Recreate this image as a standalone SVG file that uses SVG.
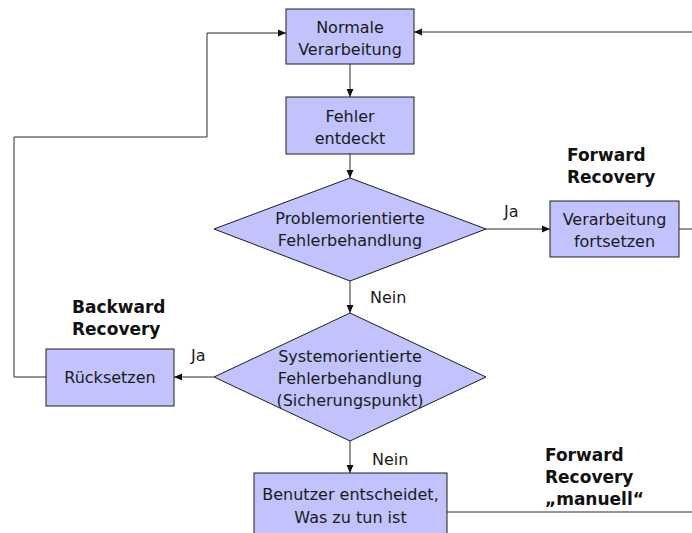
<svg xmlns="http://www.w3.org/2000/svg" width="692" height="533" viewBox="0 0 692 533">
  <style>
    .node { fill: #c2c2fc; stroke: #1e1e1e; stroke-width: 1; }
    .txt { font-family: "DejaVu Sans", Verdana, sans-serif; font-size: 16px; fill: #1a1a1a; text-anchor: middle; }
    .lbl { font-family: "DejaVu Sans", Verdana, sans-serif; font-size: 16px; fill: #1a1a1a; }
    .hd { font-family: "DejaVu Sans", Verdana, sans-serif; font-size: 17px; font-weight: bold; fill: #111; }
    .edge { fill: none; stroke: #2a2a2a; stroke-width: 1; }
  </style>
  <defs>
    <marker id="arrow" viewBox="0 0 8 8" refX="8" refY="4" markerWidth="8" markerHeight="8" markerUnits="userSpaceOnUse" orient="auto">
      <path d="M0,0.5 L8,4 L0,7.5 Z" fill="#111"/>
    </marker>
  </defs>

  <rect width="692" height="533" fill="#ffffff"/>

  <!-- connectors -->
  <g id="connectors">
    <path class="edge" d="M350,64 V97" marker-end="url(#arrow)"/>
    <path class="edge" d="M350,154 V178" marker-end="url(#arrow)"/>
    <path class="edge" d="M350,281 V313" marker-end="url(#arrow)"/>
    <path class="edge" d="M350,441 V473" marker-end="url(#arrow)"/>
    <path class="edge" d="M486,229 H550" marker-end="url(#arrow)"/>
    <path class="edge" d="M214,377 H174" marker-end="url(#arrow)"/>
    <path class="edge" d="M46,377 H14 V137 H207 V33 H286" marker-end="url(#arrow)"/>
    <path class="edge" d="M679,229 H692"/>
    <path class="edge" d="M692,32 H414" marker-end="url(#arrow)"/>
    <path class="edge" d="M447,512 H692"/>
  </g>

  <!-- edge labels -->
  <g id="edge-labels">
    <text class="lbl" x="504" y="217">Ja</text>
    <text class="lbl" x="370" y="303">Nein</text>
    <text class="lbl" x="191" y="361">Ja</text>
    <text class="lbl" x="372" y="465">Nein</text>
  </g>

  <g id="normal">
    <rect class="node" x="286" y="9" width="128" height="55"/>
    <text class="txt" x="350" y="33">Normale</text>
    <text class="txt" x="350" y="55">Verarbeitung</text>
  </g>

  <g id="detected">
    <rect class="node" x="286" y="97" width="128" height="57"/>
    <text class="txt" x="350" y="122">Fehler</text>
    <text class="txt" x="350" y="144">entdeckt</text>
  </g>

  <g id="problem-decision">
    <polygon class="node" points="350,178 486,229 350,281 214,229"/>
    <text class="txt" x="350" y="224">Problemorientierte</text>
    <text class="txt" x="350" y="246">Fehlerbehandlung</text>
  </g>

  <g id="continue">
    <rect class="node" x="550" y="201" width="129" height="56"/>
    <text class="txt" x="614.5" y="225">Verarbeitung</text>
    <text class="txt" x="614.5" y="247">fortsetzen</text>
  </g>

  <g id="system-decision">
    <polygon class="node" points="350,313 486,377 350,441 214,377"/>
    <text class="txt" x="350" y="362">Systemorientierte</text>
    <text class="txt" x="350" y="384">Fehlerbehandlung</text>
    <text class="txt" x="350" y="406">(Sicherungspunkt)</text>
  </g>

  <g id="reset">
    <rect class="node" x="46" y="349" width="128" height="57"/>
    <text class="txt" x="110" y="383">Rücksetzen</text>
  </g>

  <g id="user">
    <rect class="node" x="254" y="473" width="193" height="70"/>
    <text class="txt" x="350.5" y="500">Benutzer entscheidet,</text>
    <text class="txt" x="350.5" y="523">Was zu tun ist</text>
  </g>

  <!-- recovery annotations -->
  <g id="forward-recovery">
    <text class="hd" x="567" y="161">Forward</text>
    <text class="hd" x="567" y="183">Recovery</text>
  </g>
  <g id="backward-recovery">
    <text class="hd" x="72" y="313">Backward</text>
    <text class="hd" x="72" y="335">Recovery</text>
  </g>
  <g id="manual-recovery">
    <text class="hd" x="545" y="461">Forward</text>
    <text class="hd" x="545" y="483">Recovery</text>
    <text class="hd" x="545" y="505">„manuell“</text>
  </g>
</svg>
